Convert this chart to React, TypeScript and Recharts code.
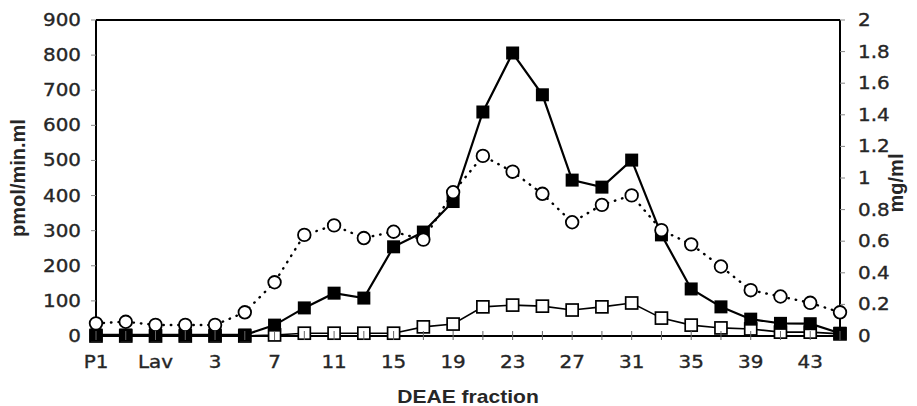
import React from 'react';
import { LineChart, Line, XAxis, YAxis, ReferenceLine } from 'recharts';

const fractions = ['P1', 'P2', 'Lav', '1', '3', '5', '7', '9', '11', '13', '15', '17', '19', '21', '23', '25', '27', '29', '31', '33', '35', '37', '39', '41', '43', '45'];
const activityFilled = [3, 3, 3, 3, 3, 3, 31, 80, 122, 108, 254, 296, 383, 638, 806, 687, 444, 424, 501, 288, 134, 83, 48, 36, 35, 8];
const activityOpen = [0, 0, 0, 0, 0, 0, 3, 8, 8, 8, 8, 26, 34, 83, 88, 85, 74, 83, 94, 51, 31, 23, 20, 11, 11, 6];
const protein = [0.08, 0.09, 0.07, 0.07, 0.07, 0.15, 0.34, 0.64, 0.7, 0.62, 0.66, 0.61, 0.91, 1.14, 1.04, 0.9, 0.72, 0.83, 0.89, 0.67, 0.58, 0.44, 0.29, 0.25, 0.21, 0.15];
const leftTicks = [0, 100, 200, 300, 400, 500, 600, 700, 800, 900];
const rightTicks = [0, 0.2, 0.4, 0.6, 0.8, 1, 1.2, 1.4, 1.6, 1.8, 2];

const data = fractions.map((f, i) => ({
  fraction: f,
  filled: activityFilled[i],
  open: activityOpen[i],
  protein: protein[i],
}));

const TXT = '#262626';
const SX = 1.17;

const XTick = (props: any) => {
  const { x, y, payload, index } = props;
  const axisY = y - 20;
  return (
    <g>
      <line x1={x} x2={x} y1={axisY - 5} y2={axisY + 4} stroke="#666" strokeWidth={1} />
      {index % 2 === 0 && (
        <text
          transform={`translate(${x},${y}) scale(${SX},1)`}
          textAnchor="middle"
          dy="0.71em"
          fontFamily="DejaVu Sans"
          fontSize={17}
          fill={TXT}
          stroke={TXT}
          strokeWidth={0.35}
        >
          {payload.value}
        </text>
      )}
    </g>
  );
};

const YTick = (props: any) => {
  const { x, y, payload, textAnchor } = props;
  return (
    <text
      transform={`translate(${x},${y}) scale(${SX},1)`}
      textAnchor={textAnchor}
      dy="0.355em"
      fontFamily="DejaVu Sans"
      fontSize={17}
      fill={TXT}
      stroke={TXT}
      strokeWidth={0.35}
    >
      {String(payload.value)}
    </text>
  );
};

const FilledSquare = (props: any) => {
  const { cx, cy, index } = props;
  if (cx == null || cy == null) return <g key={`fs${index}`} />;
  return <rect key={`fs${index}`} x={cx - 6.5} y={cy - 6.5} width={13} height={13} fill="#000" />;
};

const OpenSquare = (props: any) => {
  const { cx, cy, index } = props;
  if (cx == null || cy == null) return <g key={`os${index}`} />;
  return <rect key={`os${index}`} x={cx - 6} y={cy - 6} width={12} height={12} fill="#fff" stroke="#000" strokeWidth={1.7} />;
};

const OpenCircle = (props: any) => {
  const { cx, cy, index } = props;
  if (cx == null || cy == null) return <g key={`oc${index}`} />;
  return <circle key={`oc${index}`} cx={cx} cy={cy} r={6.3} fill="#fff" stroke="#000" strokeWidth={1.8} />;
};

const XLabel = (props: any) => {
  const vb = props.viewBox || {};
  const cx = vb.x + vb.width / 2;
  const cy = vb.y + 61;
  return (
    <text
      transform={`translate(${cx},${cy}) scale(${SX},1)`}
      textAnchor="middle"
      dy="0.355em"
      fontFamily="Liberation Sans, Arial"
      fontWeight="bold"
      fontSize={18}
      fill={TXT}
    >
      DEAE fraction
    </text>
  );
};

const LeftLabel = (props: any) => {
  const vb = props.viewBox || {};
  const cx = vb.x + 18;
  const cy = vb.y + vb.height / 2;
  return (
    <text
      transform={`translate(${cx},${cy}) rotate(-90)`}
      textAnchor="middle"
      dy="0.355em"
      fontFamily="Liberation Sans, Arial"
      fontWeight="bold"
      fontSize={20}
      fill={TXT}
    >
      pmol/min.ml
    </text>
  );
};

const RightLabel = (props: any) => {
  const vb = props.viewBox || {};
  const cx = vb.x + 56;
  const cy = vb.y + vb.height / 2 + 5;
  return (
    <text
      transform={`translate(${cx},${cy}) rotate(-90)`}
      textAnchor="middle"
      dy="0.355em"
      fontFamily="Liberation Sans, Arial"
      fontWeight="bold"
      fontSize={20}
      fill={TXT}
    >
      mg/ml
    </text>
  );
};

export default function App() {
  return (
    <div style={{ position: 'absolute', left: 0, top: 0, width: 917, height: 406, background: '#fff' }}>
      <LineChart width={917} height={406} data={data} margin={{ top: 20, right: 0, bottom: 0, left: 0 }}>
        <XAxis
          dataKey="fraction"
          interval={0}
          tickSize={0}
          tickMargin={20}
          tick={<XTick />}
          tickLine={false}
          axisLine={{ stroke: '#000', strokeWidth: 2 }}
          height={70}
          label={(p: any) => <XLabel {...p} />}
        />
        <YAxis
          yAxisId="left"
          orientation="left"
          width={96}
          domain={[0, 900]}
          ticks={leftTicks}
          interval={0}
          tickSize={5}
          tickMargin={10}
          tick={<YTick />}
          tickLine={{ stroke: '#888' }}
          axisLine={{ stroke: '#000', strokeWidth: 2 }}
          label={(p: any) => <LeftLabel {...p} />}
        />
        <YAxis
          yAxisId="right"
          orientation="right"
          width={77}
          domain={[0, 2]}
          ticks={rightTicks}
          interval={0}
          tickSize={5}
          tickMargin={13}
          tick={<YTick />}
          tickLine={{ stroke: '#888' }}
          axisLine={{ stroke: '#000', strokeWidth: 2 }}
          label={(p: any) => <RightLabel {...p} />}
        />
        <ReferenceLine yAxisId="left" y={900} stroke="#000" strokeWidth={2} />
        <Line
          yAxisId="left"
          type="linear"
          dataKey="open"
          stroke="#000"
          strokeWidth={1.6}
          dot={(p: any) => <OpenSquare {...p} key={`os${p.index}`} />}
          activeDot={false}
          isAnimationActive={false}
        />
        <Line
          yAxisId="left"
          type="linear"
          dataKey="filled"
          stroke="#000"
          strokeWidth={2.2}
          dot={(p: any) => <FilledSquare {...p} key={`fs${p.index}`} />}
          activeDot={false}
          isAnimationActive={false}
        />
        <Line
          yAxisId="right"
          type="linear"
          dataKey="protein"
          stroke="#000"
          strokeWidth={2.4}
          strokeDasharray="0.5 7"
          strokeLinecap="round"
          dot={(p: any) => <OpenCircle {...p} key={`oc${p.index}`} />}
          activeDot={false}
          isAnimationActive={false}
        />
      </LineChart>
    </div>
  );
}
